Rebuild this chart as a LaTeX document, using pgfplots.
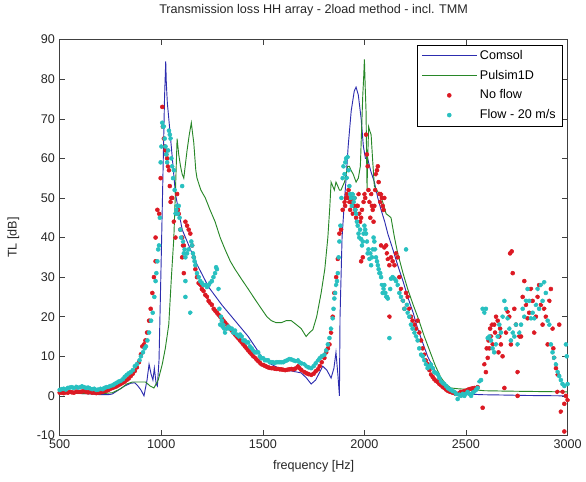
\documentclass[border=0pt]{standalone}
\usepackage{fontspec}
\setmainfont{Liberation Sans}
\usepackage{pgfplots}
\usepackage{pgfplotstable}
\pgfplotsset{compat=1.18}

\definecolor{cblue}{RGB}{45,45,175}
\definecolor{cgreen}{RGB}{40,135,40}
\definecolor{cred}{RGB}{220,25,35}
\definecolor{ccyan}{RGB}{40,192,192}

% Comsol model
\pgfplotstableread[row sep=\\]{
f tl\\
500 1\\ 550 0.8\\ 600 0.6\\ 650 0.5\\ 700 0.3\\ 740 0.3\\ 760 0.5\\ 790 1.5\\ 820 2.5\\ 850 3.2\\ 870 3.3\\ 885 2.5\\
900 1.5\\ 915 0\\ 930 4\\ 940 8\\ 950 5.5\\ 959 4\\ 966 7\\ 975 3\\ 981 2.5\\ 989 9\\ 1000 35\\ 1010 60\\ 1016 75\\
1022 84.5\\ 1025 79\\ 1030 74\\ 1046 65\\ 1070 51\\ 1103 42\\ 1168 34\\ 1233 27.5\\ 1298 23\\ 1363 19\\ 1428 15\\
1493 10\\ 1540 8\\ 1591 6.7\\ 1640 6.3\\ 1689 5.8\\ 1715 4.5\\ 1738 3\\ 1760 4\\ 1795 7.5\\ 1815 6.5\\ 1836 4.5\\
1850 7\\ 1860 11\\ 1870 5\\ 1877 0\\ 1880 20\\ 1890 40\\ 1900 48\\ 1910 55\\ 1920 63\\ 1935 72\\ 1950 77\\ 1959 78\\
1970 76\\ 1984 70\\ 1995 63\\ 2005 60\\ 2016 60\\ 2030 57\\ 2049 54\\ 2066 50\\ 2082 47\\ 2100 44\\ 2115 41\\ 2140 37\\
2164 33\\ 2190 29\\ 2213 25\\ 2240 21\\ 2262 17\\ 2290 13\\ 2311 10\\ 2340 7\\ 2361 5\\ 2390 3\\ 2410 2\\ 2440 1.2\\
2460 0.8\\ 2500 0.5\\ 2574 0.3\\ 2700 0.2\\ 2800 0.1\\ 3000 0\\
}\comsol

% Pulsim1D model
\pgfplotstableread[row sep=\\]{
f tl\\
500 0.8\\ 600 0.6\\ 700 0.5\\ 760 0.8\\ 800 1.8\\ 830 3\\ 858 3.5\\ 890 3.5\\ 923 3.5\\ 945 2.5\\ 964 2\\ 985 4\\
1005 8\\ 1020 12\\ 1037 18\\ 1050 30\\ 1062 40\\ 1070 52\\ 1078 65\\ 1082 63\\ 1086 61\\ 1095 58\\ 1103 56\\ 1111 55\\
1120 59\\ 1127 62\\ 1138 66\\ 1148 69\\ 1155 66\\ 1160 64\\ 1170 57\\ 1176 55\\ 1195 52\\ 1217 50\\ 1240 47\\ 1265 44\\
1290 40\\ 1314 37\\ 1340 34\\ 1363 32\\ 1395 29.5\\ 1428 27\\ 1460 24.5\\ 1493 22\\ 1520 20\\ 1542 19\\ 1565 18.5\\
1591 18.5\\ 1615 19\\ 1640 19\\ 1665 18\\ 1689 17\\ 1713 15\\ 1730 16\\ 1746 16.7\\ 1765 20\\ 1787 26\\ 1805 32\\
1820 40\\ 1830 48\\ 1836 54\\ 1844 53\\ 1852 52\\ 1860 54\\ 1869 53\\ 1877 52\\ 1885 52\\ 1893 53\\ 1902 54\\ 1910 56\\
1918 58\\ 1926 58\\ 1934 57\\ 1945 56\\ 1959 54\\ 1970 55\\ 1980 58\\ 1988 70\\ 1992 76\\ 1996 80\\ 2000 85\\ 2004 78\\
2008 72\\ 2011 60\\ 2013 52\\ 2016 60\\ 2021 68\\ 2026 67\\ 2033 66\\ 2040 60\\ 2049 53\\ 2060 52\\ 2074 51\\ 2090 49\\
2107 46\\ 2120 45.5\\ 2131 45\\ 2148 40\\ 2164 36\\ 2190 31\\ 2213 27\\ 2240 23\\ 2262 20\\ 2295 15\\ 2328 10.5\\
2350 7.5\\ 2377 4.6\\ 2400 3\\ 2426 2\\ 2460 1.8\\ 2492 1.7\\ 2550 1.5\\ 2590 1.3\\ 2700 1.2\\ 2850 1.1\\ 3000 1\\
}\pulsim

% measured, no flow
\pgfplotstableread[row sep=\\]{
f tl\\
500 0.8\\ 510 0.8\\ 520 0.7\\ 530 0.9\\ 540 0.8\\ 550 1.0\\ 560 0.9\\ 570 0.8\\ 580 1.1\\ 590 1.0\\ 600 1.0\\ 610 1.1\\
620 1.2\\ 630 1.0\\ 640 0.9\\ 650 1.0\\ 660 0.8\\ 670 0.9\\ 680 0.7\\ 690 0.8\\ 700 0.9\\ 710 1.0\\ 720 1.2\\ 730 1.3\\
740 1.5\\ 750 1.8\\ 760 2.0\\ 770 2.2\\ 780 2.4\\ 790 2.7\\ 800 3.0\\ 810 3.3\\ 820 3.6\\ 830 4.0\\ 840 4.4\\ 850 5.0\\
860 5.6\\ 870 6.3\\ 880 7.2\\ 890 8.5\\ 900 10.5\\ 907 12.5\\ 915 13\\ 922 14\\ 930 16\\ 940 19\\ 948 22\\ 956 26\\
964 30\\ 972 34\\ 972 40\\ 981 47\\ 990 46\\ 997 55\\ 1005 73\\ 1008 68\\ 1013 65\\ 1017 63\\ 1021 62\\ 1025 61\\
1029 60\\ 1033 58\\ 1038 57\\ 1042 53\\ 1046 49\\ 1050 50\\ 1054 50\\ 1062 44\\ 1070 40\\ 1078 51\\ 1082 47\\ 1086 46\\
1094 42\\ 1103 40\\ 1103 35\\ 1107 38\\ 1111 38\\ 1111 31\\ 1119 44\\ 1127 43\\ 1135 42\\ 1143 41\\ 1152 38\\ 1160 35\\
1168 32\\ 1176 30\\ 1184 28.5\\ 1192 28\\ 1200 27\\ 1208 26.5\\ 1217 25.5\\ 1225 25\\ 1233 24\\ 1241 23.5\\ 1249 23\\
1258 22\\ 1266 21.5\\ 1274 21\\ 1282 20.5\\ 1290 20\\ 1298 19.5\\ 1306 19\\ 1314 18.5\\ 1322 18\\ 1330 17.5\\ 1338 17\\
1347 16.5\\ 1355 16\\ 1363 15.5\\ 1371 15\\ 1380 14.5\\ 1388 14\\ 1396 13.5\\ 1404 13\\ 1412 12.5\\ 1420 12\\ 1428 11.5\\
1436 11\\ 1445 10.5\\ 1453 10\\ 1461 9.6\\ 1469 9.2\\ 1477 8.8\\ 1485 8.4\\ 1493 8.0\\ 1502 7.8\\ 1510 7.6\\ 1518 7.4\\
1526 7.2\\ 1534 7.1\\ 1542 7.0\\ 1550 7.0\\ 1558 6.9\\ 1567 6.8\\ 1575 6.8\\ 1583 6.7\\ 1591 6.7\\ 1600 6.6\\ 1610 6.5\\
1620 6.6\\ 1630 6.7\\ 1640 6.8\\ 1650 6.7\\ 1660 6.9\\ 1672 7.5\\ 1680 7\\ 1690 6.5\\ 1705 6\\ 1715 5.7\\ 1725 5.5\\
1738 5.3\\ 1750 5.6\\ 1760 6.2\\ 1771 6.7\\ 1780 7.5\\ 1790 8.5\\ 1803 9.6\\ 1812 11\\ 1820 12\\ 1828 13\\ 1836 16\\
1844 20\\ 1852 26\\ 1861 30\\ 1869 34.6\\ 1877 41\\ 1885 42\\ 1893 47\\ 1902 49\\ 1905 48\\ 1910 50\\ 1914 51\\ 1918 50\\
1922 52\\ 1926 49\\ 1930 47\\ 1934 49\\ 1938 50\\ 1943 46\\ 1947 48\\ 1951 50\\ 1955 47\\ 1959 45\\ 1963 48\\ 1967 48\\
1971 51\\ 1975 46\\ 1979 44\\ 1984 45\\ 1984 34\\ 1988 47\\ 1992 35\\ 1996 49\\ 2000 51\\ 2004 50\\ 2008 66\\ 2012 61\\
2016 58\\ 2020 52\\ 2025 49\\ 2029 45\\ 2033 51\\ 2037 48\\ 2041 47\\ 2045 44\\ 2049 48\\ 2053 52\\ 2057 56\\ 2062 57\\
2066 58\\ 2070 54\\ 2074 51\\ 2078 49\\ 2082 51\\ 2082 38\\ 2086 50\\ 2090 48\\ 2094 47\\ 2098 50\\ 2098 37.5\\
2107 38\\ 2111 36\\ 2115 34.6\\ 2123 33\\ 2123 20\\ 2131 35\\ 2139 34\\ 2148 33\\ 2156 36\\ 2164 35\\ 2172 30\\
2180 27\\ 2189 24\\ 2197 22\\ 2205 26\\ 2213 25\\ 2221 22\\ 2229 20\\ 2237 19\\ 2246 18\\ 2254 17\\ 2262 19\\ 2270 16\\
2279 14\\ 2287 12\\ 2295 10.4\\ 2303 9\\ 2311 8\\ 2320 6.5\\ 2328 5.4\\ 2336 4.8\\ 2344 4.2\\ 2352 3.8\\ 2361 3.5\\
2369 3\\ 2377 2.7\\ 2385 2.3\\ 2393 2\\ 2402 1.6\\ 2410 1.3\\ 2418 1.1\\ 2426 1\\ 2434 0.8\\ 2443 0.6\\ 2451 0.5\\
2459 0.5\\ 2467 0.8\\ 2475 1\\ 2484 1\\ 2492 1.2\\ 2500 1.3\\ 2508 1.5\\ 2516 1.7\\ 2525 1.8\\ 2533 1.9\\ 2541 2\\
2549 1.8\\ 2557 2.2\\ 2582 -3\\ 2590 8\\ 2598 6\\ 2602 12\\ 2607 9.6\\ 2611 14\\ 2615 12\\ 2619 17\\ 2623 15\\ 2627 18\\
2631 13\\ 2639 18\\ 2643 16\\ 2648 20\\ 2656 19\\ 2660 11\\ 2664 15\\ 2668 17\\ 2672 13\\ 2680 10\\ 2689 2\\ 2697 16\\
2705 21.3\\ 2713 20\\ 2717 36\\ 2721 13\\ 2725 36.5\\ 2730 31\\ 2738 22\\ 2746 18\\ 2754 6\\ 2754 0\\ 2762 15\\
2771 15\\ 2779 25\\ 2787 29\\ 2795 23\\ 2803 19.6\\ 2811 21\\ 2820 27\\ 2828 24\\ 2836 16\\ 2844 20\\ 2852 25\\ 2860 28\\
2869 23\\ 2877 18\\ 2885 22\\ 2893 20\\ 2902 13\\ 2910 24\\ 2918 27\\ 2926 17\\ 2930 12\\ 2934 9.6\\ 2943 7\\ 2950 1\\
2951 5.4\\ 2959 18\\ 2967 -4\\ 2975 1\\ 2984 -2\\ 2984 -9\\ 2992 0\\ 3000 -1\\
}\noflow

% measured, flow 20 m/s
\pgfplotstableread[row sep=\\]{
f tl\\
500 1.5\\ 510 1.7\\ 520 1.8\\ 530 1.6\\ 540 2.0\\ 550 2.1\\ 560 2.2\\ 570 2.0\\ 580 2.3\\ 590 2.1\\ 600 2.2\\ 610 2.4\\
620 2.2\\ 630 2.0\\ 640 2.1\\ 650 1.9\\ 660 1.7\\ 670 1.8\\ 680 1.5\\ 690 1.6\\ 700 1.8\\ 712 1.7\\ 720 2.0\\ 730 2.2\\
740 2.3\\ 750 2.5\\ 762 2.7\\ 770 3.0\\ 780 3.3\\ 790 3.6\\ 800 3.8\\ 811 4.2\\ 820 4.8\\ 830 5.3\\ 840 5.7\\ 850 6.0\\
860 6.5\\ 870 7.5\\ 880 8.0\\ 893 9\\ 900 10\\ 910 11\\ 918 12\\ 925 12.5\\ 932 14\\ 940 16\\ 950 19\\ 958 21\\ 966 25\\
972 29\\ 976 31\\ 981 34\\ 985 37\\ 989 38\\ 993 45\\ 997 59\\ 1001 63\\ 1005 69\\ 1009 68\\ 1013 68\\ 1017 65\\ 1021 63\\
1025 61\\ 1029 59\\ 1034 62\\ 1038 67\\ 1042 66\\ 1046 65\\ 1050 60\\ 1054 58\\ 1058 55\\ 1062 57\\ 1066 52\\ 1070 46\\
1074 47\\ 1078 48\\ 1082 46\\ 1086 48\\ 1090 45\\ 1094 42\\ 1098 40\\ 1103 53\\ 1107 39\\ 1111 36\\ 1115 37\\ 1119 35\\
1119 29\\ 1119 25\\ 1127 36\\ 1135 37\\ 1143 21\\ 1148 39\\ 1152 38\\ 1156 36\\ 1160 35\\ 1164 34\\ 1168 33\\ 1176 31\\
1184 30\\ 1192 29\\ 1200 28.5\\ 1208 28\\ 1217 28\\ 1225 27.5\\ 1233 28\\ 1241 28.5\\ 1249 29\\ 1257 30\\ 1265 31\\
1270 32.5\\ 1274 32\\ 1282 27\\ 1286 22\\ 1290 18\\ 1294 20\\ 1298 19\\ 1302 17.5\\ 1306 18\\ 1310 17\\ 1314 16\\
1322 17\\ 1330 17.5\\ 1338 17\\ 1347 17\\ 1355 16\\ 1363 16.5\\ 1371 15.5\\ 1380 15\\ 1388 15.5\\ 1396 15\\ 1404 14\\
1412 14\\ 1420 13.5\\ 1428 13.5\\ 1436 12.5\\ 1445 12\\ 1453 11.5\\ 1461 11\\ 1469 11\\ 1477 11\\ 1485 10\\ 1493 9.5\\
1502 9.5\\ 1510 9\\ 1518 9\\ 1526 9\\ 1534 8.5\\ 1542 8.5\\ 1550 8.5\\ 1558 8.3\\ 1567 8.5\\ 1575 8.5\\ 1583 8.5\\
1591 8.5\\ 1600 8.5\\ 1610 8.8\\ 1620 9\\ 1630 9.3\\ 1640 9.2\\ 1650 9\\ 1660 8.8\\ 1672 9\\ 1680 8.5\\ 1690 8.2\\
1705 8\\ 1715 7.5\\ 1725 7.2\\ 1738 7\\ 1750 7.5\\ 1760 8.2\\ 1771 9\\ 1780 9.5\\ 1790 10\\ 1803 10.4\\ 1812 11.5\\
1820 13\\ 1828 14.6\\ 1836 17\\ 1844 19.6\\ 1848 22\\ 1852 24.6\\ 1856 26\\ 1861 28\\ 1865 29\\ 1869 31\\ 1873 35\\
1877 39\\ 1882 43\\ 1887 50\\ 1893 55\\ 1897 58\\ 1902 56\\ 1906 59\\ 1910 60\\ 1914 55\\ 1918 60.4\\ 1922 57\\ 1926 53\\
1930 51\\ 1934 50\\ 1938 48\\ 1943 51\\ 1947 49\\ 1951 50\\ 1955 47\\ 1959 46\\ 1963 44\\ 1967 43\\ 1971 41\\ 1975 40\\
1979 42\\ 1984 39.6\\ 1988 38\\ 1992 39\\ 1996 41\\ 2000 43\\ 2004 42\\ 2008 41\\ 2012 39\\ 2016 36\\ 2020 37\\
2025 34.6\\ 2029 36\\ 2033 33\\ 2037 35\\ 2041 37\\ 2045 40\\ 2049 39\\ 2053 37\\ 2057 35\\ 2062 34\\ 2066 33\\ 2070 32\\
2074 31\\ 2078 31\\ 2082 30\\ 2086 28\\ 2090 26\\ 2094 27\\ 2098 28\\ 2103 26\\ 2107 25\\ 2111 25\\ 2115 24.6\\
2123 14.6\\ 2127 27\\ 2131 29.6\\ 2139 30\\ 2148 29.6\\ 2156 29\\ 2164 28\\ 2172 26\\ 2180 25\\ 2189 24\\ 2197 22\\
2205 37\\ 2209 23\\ 2213 21\\ 2221 20\\ 2229 18\\ 2237 17\\ 2246 16\\ 2254 15\\ 2262 14\\ 2270 12\\ 2279 10.4\\
2287 10\\ 2295 9\\ 2303 8\\ 2311 7\\ 2320 7.5\\ 2328 8\\ 2336 7\\ 2344 6\\ 2352 5.8\\ 2361 5.4\\ 2369 4.5\\ 2377 3.7\\
2385 3.3\\ 2393 3\\ 2402 2.5\\ 2410 2\\ 2418 1.7\\ 2426 1.5\\ 2434 1.2\\ 2443 1\\ 2451 0.5\\ 2459 -0.8\\ 2467 0.3\\
2475 0\\ 2484 0.5\\ 2492 0\\ 2500 0.5\\ 2508 1\\ 2516 0.5\\ 2525 0\\ 2533 0.8\\ 2541 1\\ 2549 1.5\\ 2557 2\\ 2566 3.7\\
2574 4\\ 2582 22\\ 2590 21\\ 2598 22\\ 2607 14.6\\ 2615 15\\ 2623 14\\ 2631 12\\ 2639 11\\ 2648 13\\ 2656 15\\ 2664 18\\
2672 16\\ 2680 20\\ 2689 24\\ 2697 22\\ 2705 19.6\\ 2713 17\\ 2721 14\\ 2730 16\\ 2738 15\\ 2746 18\\ 2754 13\\ 2762 16\\
2771 18\\ 2779 22\\ 2787 20\\ 2795 24\\ 2803 27\\ 2811 24\\ 2820 19.6\\ 2828 21\\ 2836 19.6\\ 2844 23\\ 2852 27\\
2860 22\\ 2869 28\\ 2877 24\\ 2885 28.7\\ 2893 26\\ 2902 19\\ 2910 18\\ 2918 13\\ 2926 11\\ 2934 9.6\\ 2943 8\\ 2951 6\\
2959 5\\ 2967 4\\ 2975 3\\ 2984 2.5\\ 2992 13\\ 2996 10\\ 3000 3\\
}\flow

\begin{document}
\begin{tikzpicture}
\begin{axis}[
  scale only axis, width=383pt, height=298.5pt,
  xmin=500, xmax=3000, ymin=-10, ymax=90,
  xtick={500,1000,...,3000}, ytick={-10,0,...,90},
  /pgf/number format/assume math mode=true,
  /pgf/number format/1000 sep={},
  tick label style={font=\fontsize{9.5}{11}\selectfont, color=black!85},
  label style={font=\fontsize{9.5}{11}\selectfont, color=black!85},
  title style={font=\fontsize{9.5}{11}\selectfont, color=black!85,
    at={(axis description cs:0.5,1.054)}, anchor=center},
  title={Transmission loss HH array - 2load method - incl. TMM},
  xlabel={frequency [Hz]}, ylabel={TL [dB]},
  xlabel style={at={(axis description cs:0.5,-0.077)}, anchor=center},
  ylabel style={at={(axis description cs:-0.0914,0.5)}, anchor=center},
  axis line style={black!75, line width=0.6pt},
  major tick length=4pt, every tick/.style={black!75},
  legend cell align=left,
  legend style={at={(0.990,0.987)}, anchor=north east,
    font=\fontsize{9.5}{11}\selectfont, row sep=2.5pt, inner xsep=3pt, inner ysep=2pt},
]
\addlegendimage{legend image code/.code={\draw[cblue, line width=0.8pt] (0cm,0cm) -- (1.45cm,0cm);}}
\addlegendentry{Comsol}
\addlegendimage{legend image code/.code={\draw[cgreen, line width=0.8pt] (0cm,0cm) -- (1.45cm,0cm);}}
\addlegendentry{Pulsim1D}
\addlegendimage{legend image code/.code={\fill[cred] (0.72cm,0cm) circle (1.5pt);}}
\addlegendentry{No flow}
\addlegendimage{legend image code/.code={\fill[ccyan] (0.72cm,0cm) circle (1.5pt);}}
\addlegendentry{Flow - 20 m/s}
\addplot[cblue, line width=0.7pt, forget plot] table[x=f,y=tl] {\comsol};
\addplot[cgreen, line width=0.7pt, forget plot] table[x=f,y=tl] {\pulsim};
\addplot[only marks, mark=*, mark size=1.5pt, cred, mark options={fill=cred, draw=cred}, forget plot] table[x=f,y=tl] {\noflow};
\addplot[only marks, mark=*, mark size=1.5pt, ccyan, mark options={fill=ccyan, draw=ccyan}, forget plot] table[x=f,y=tl] {\flow};
\end{axis}
\path ([shift={(-45pt,-34.5pt)}]current axis.south west) rectangle ([shift={(11.25pt,24.75pt)}]current axis.north east);
\end{tikzpicture}
\end{document}
